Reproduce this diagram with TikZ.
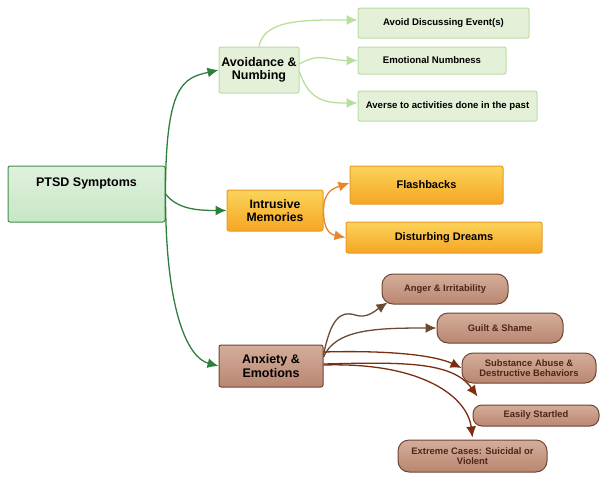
\documentclass[tikz,border=0pt]{standalone}
\usepackage{fontspec}
\setmainfont{Liberation Sans}
\usetikzlibrary{arrows.meta,calc}
\definecolor{gline}{HTML}{2F7F3C}
\definecolor{gborder}{HTML}{3F8F4A}
\definecolor{gtop}{HTML}{E0F1DE}
\definecolor{gbot}{HTML}{C8E6C6}
\definecolor{lgfill}{HTML}{E4F1D8}
\definecolor{lgborder}{HTML}{B9DCA3}
\definecolor{lgline}{HTML}{B8DE9C}
\definecolor{ortop}{HTML}{FBD35A}
\definecolor{orbot}{HTML}{F5A623}
\definecolor{orborder}{HTML}{E89B25}
\definecolor{orline}{HTML}{E8862A}
\definecolor{brtop}{HTML}{D4AE9B}
\definecolor{brbot}{HTML}{B98670}
\definecolor{brborder}{HTML}{6D4634}
\definecolor{brtext}{HTML}{4E2618}
\definecolor{brlineA}{HTML}{6B4A32}
\definecolor{brlineB}{HTML}{7B2E0E}
\tikzset{
  box/.style={draw, line width=1pt, rounded corners=2pt, align=center, inner sep=1pt, font=\bfseries},
  mainbox/.style={box, font=\bfseries\fontsize{12.5}{13.5}\selectfont},
  leafg/.style={box, draw=lgborder, fill=lgfill, font=\bfseries\fontsize{9.6}{10.6}\selectfont},
  leafo/.style={box, draw=orborder, top color=ortop, bottom color=orbot, font=\bfseries\fontsize{11}{12}\selectfont},
  leafb/.style={box, draw=brborder, top color=brtop, bottom color=brbot, rounded corners=11pt, text=brtext, font=\bfseries\fontsize{9.4}{10.6}\selectfont},
  tipG/.style={-{Latex[length=11pt,width=10pt]}},
  cg/.style={tipG, draw=gline, line width=1.3pt},
  clg/.style={tipG, draw=lgline, line width=1.3pt},
  co/.style={tipG, draw=orline, line width=1.3pt},
  cbA/.style={tipG, draw=brlineA, line width=1.3pt},
  cbB/.style={tipG, draw=brlineB, line width=1.3pt},
}
\begin{document}
\begin{tikzpicture}[x=1pt,y=-1pt]
\useasboundingbox (0,0) rectangle (608,480);
% root
\node[mainbox, draw=gborder, top color=gtop, bottom color=gbot, minimum width=157pt, minimum height=56pt, text depth=23pt] (ptsd) at (86.5,194) {PTSD Symptoms};
% level 1
\node[mainbox, draw=lgborder, fill=lgfill, minimum width=80pt, minimum height=46pt] (avnum) at (259,70) {Avoidance \&\\Numbing};
\node[mainbox, draw=orborder, top color=ortop, bottom color=orbot, minimum width=96pt, minimum height=41pt, font=\bfseries\fontsize{12.2}{13}\selectfont] (intr) at (275,210.5) {Intrusive\\Memories};
\node[mainbox, draw=brborder, top color=brtop, bottom color=brbot, minimum width=104pt, minimum height=42pt] (anx) at (271,366) {Anxiety \&\\Emotions};
% green leaves
\node[leafg, minimum width=171pt, minimum height=30pt] (ade) at (443.5,23) {Avoid Discussing Event(s)};
\node[leafg, minimum width=148pt, minimum height=27pt] (emn) at (432,60.5) {Emotional Numbness};
\node[leafg, minimum width=179pt, minimum height=30pt] (av) at (447.5,106) {Averse to activities done in the past};
% orange leaves
\node[leafo, minimum width=153pt, minimum height=38pt] (flash) at (426.5,185) {Flashbacks};
\node[leafo, minimum width=196pt, minimum height=31pt] (dream) at (444,237.5) {Disturbing Dreams};
% brown leaves
\node[leafb, minimum width=126pt, minimum height=30pt] (anger) at (445,289) {Anger \& Irritability};
\node[leafb, minimum width=126pt, minimum height=30pt] (guilt) at (500,328) {Guilt \& Shame};
\node[leafb, minimum width=134pt, minimum height=30pt] (subst) at (529,368) {Substance Abuse \&\\Destructive Behaviors};
\node[leafb, minimum width=126pt, minimum height=21pt, rounded corners=9pt] (easy) at (536,415.5) {Easily Startled};
\node[leafb, minimum width=149pt, minimum height=32pt] (extr) at (472.5,456) {Extreme Cases: Suicidal or\\Violent};
% green main connectors
\draw[cg] (ptsd.east) .. controls +(0,-110) and +(-35,8) .. (avnum.west);
\draw[cg] (ptsd.east) .. controls +(12,15) and +(-30,0) .. (intr.west);
\draw[cg] (ptsd.east) .. controls +(0,120) and +(-30,-8) .. (anx.west);
% light green
\draw[clg] (avnum.north) .. controls +(5,-28) and +(-50,0) .. ($(ade.west)+(0,-3)$);
\draw[clg] ($(avnum.east)+(0,-6)$) .. controls +(20,-12) and +(-30,0) .. (emn.west);
\draw[clg] ($(avnum.east)+(0,2)$) .. controls +(10,30) and +(-30,0) .. ($(av.west)+(0,-3)$);
% orange
\draw[co] (intr.east) .. controls +(0,-20) and +(-15,5) .. ($(flash.west)+(0,-2)$);
\draw[co] (intr.east) .. controls +(0,20) and +(-15,-3) .. (dream.west);
% brown
\draw[cbA] ($(anx.east)+(0,-11)$) .. controls +(7,-35) and +(-15,-5) .. (355,315) .. controls +(12,4) and +(-12,8) .. ($(anger.south west)+(6,-2)$);
\draw[cbA] ($(anx.east)+(0,-9)$) .. controls +(12,-28) and +(-60,0) .. (guilt.west);
\draw[cbB] ($(anx.east)+(0,-14)$) .. controls +(70,-2) and +(-25,-12) .. (subst.west);
\draw[cbB] ($(anx.east)+(0,-2)$) .. controls +(80,-2) and +(-25,-35) .. ($(easy.north west)+(5,-8)$);
\draw[cbB] ($(anx.east)+(0,-1)$) .. controls +(100,-3) and +(-5,-40) .. ($(extr.north)+(0,-2)$);
\end{tikzpicture}
\end{document}
